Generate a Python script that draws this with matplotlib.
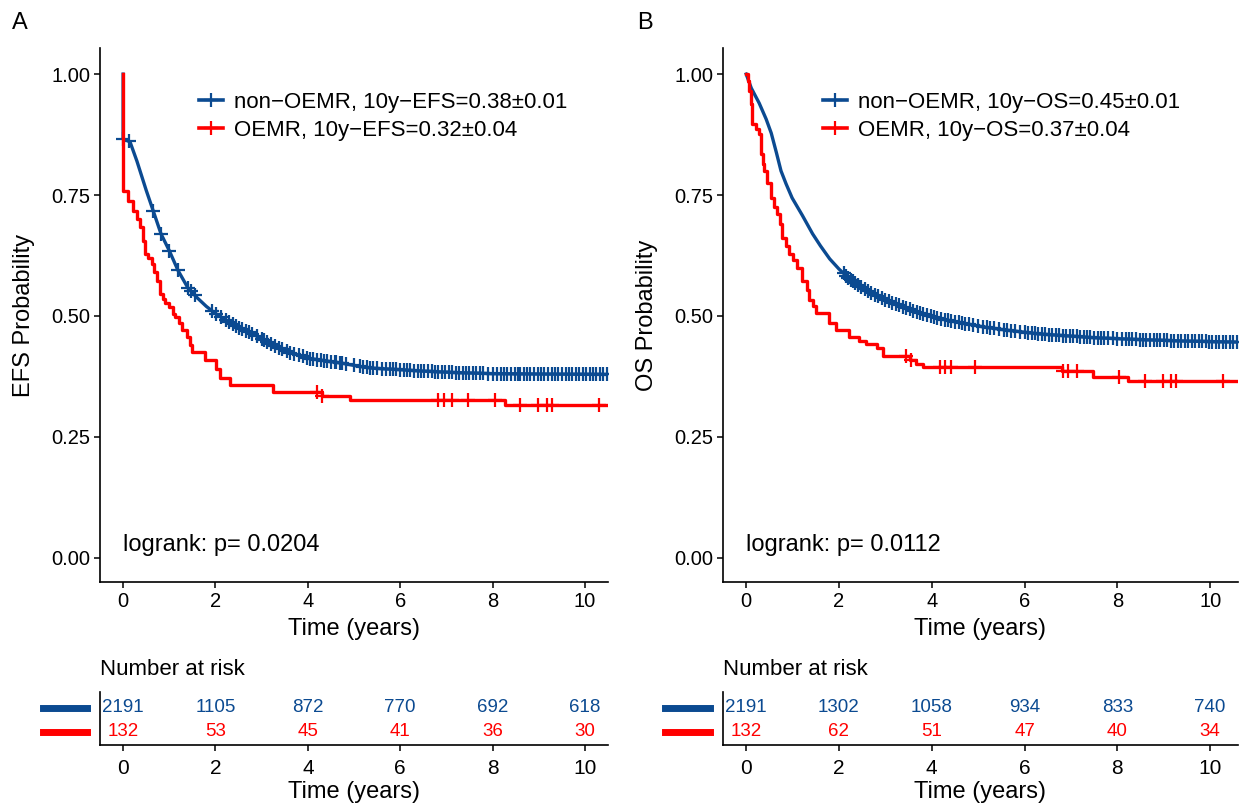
import numpy as np
import matplotlib
matplotlib.use("Agg")
import matplotlib.pyplot as plt
from matplotlib.lines import Line2D

plt.rcParams['font.family'] = ['Liberation Sans', 'DejaVu Sans']

BLUE = "#0b4a91"
RED = "#ff0000"

# ---- panel A: EFS ----
efs_blue_t = [0, 0, 0.15, 0.3, 0.5, 0.65, 0.82, 1.0, 1.19, 1.41, 1.6, 1.8, 2.0, 2.25, 2.5, 2.75,
              3.03, 3.3, 3.6, 4.05, 4.4, 4.76, 5.1, 5.4, 6.0, 6.5, 7.2, 7.9, 9.0, 10.5]
efs_blue_s = [1.0, 0.866, 0.86, 0.82, 0.76, 0.718, 0.67, 0.635, 0.594, 0.557, 0.538, 0.52, 0.505, 0.49, 0.476, 0.465,
              0.452, 0.437, 0.425, 0.412, 0.407, 0.402, 0.396, 0.392, 0.389, 0.386, 0.383, 0.381, 0.38, 0.379]
efs_red_t = [0, 0, 0.11, 0.22, 0.3, 0.37, 0.43, 0.48, 0.55, 0.63, 0.68, 0.73, 0.8, 0.86, 0.91, 1.0,
             1.08, 1.13, 1.2, 1.28, 1.38, 1.45, 1.49, 1.77, 2.02, 2.1, 2.32, 3.25, 4.31, 4.91, 8.27, 10.5]
efs_red_s = [1.0, 0.759, 0.738, 0.718, 0.70, 0.683, 0.656, 0.629, 0.62, 0.608, 0.59, 0.573, 0.546, 0.535, 0.526, 0.518,
             0.505, 0.497, 0.485, 0.47, 0.456, 0.44, 0.425, 0.408, 0.39, 0.371, 0.357, 0.342, 0.334, 0.326, 0.315, 0.315]
efs_blue_cens = [0.0, 0.13, 0.65, 0.82, 1.0, 1.19, 1.41, 1.46, 1.55, 1.93, 2.02, 2.12, 2.22, 2.3, 2.38, 2.45,
                 2.5, 2.58, 2.66, 2.72, 2.8, 2.9, 3.0, 3.05, 3.12, 3.2, 3.3, 3.38, 3.45, 3.55, 3.62, 3.7,
                 3.8, 3.9, 3.98, 4.05, 4.12, 4.2, 4.28, 4.35, 4.42, 4.5, 4.58, 4.62, 4.7, 4.75, 4.82, 5.0,
                 5.12, 5.2, 5.28, 5.35, 5.42, 5.5, 5.6, 5.7, 5.78, 5.85, 5.92, 6.0, 6.08, 6.15, 6.22, 6.3,
                 6.38, 6.45, 6.52, 6.6, 6.68, 6.75, 6.82, 6.9, 6.98, 7.05, 7.12, 7.2, 7.28, 7.35, 7.42, 7.5,
                 7.58, 7.65, 7.72, 7.8, 7.9, 8.0, 8.1, 8.18, 8.25, 8.32, 8.4, 8.48, 8.55, 8.6, 8.68, 8.75,
                 8.82, 8.9, 8.98, 9.05, 9.12, 9.2, 9.28, 9.35, 9.42, 9.5, 9.58, 9.65, 9.72, 9.8, 9.88, 9.95,
                 10.02, 10.1, 10.18, 10.25, 10.32, 10.4, 10.48]
efs_red_cens = [4.2, 4.31, 6.82, 6.95, 7.12, 7.47, 8.05, 8.59, 8.98, 9.18, 9.28, 10.30]

# ---- panel B: OS ----
os_blue_t = [0, 0.11, 0.28, 0.43, 0.54, 0.65, 0.75, 0.86, 0.99, 1.21, 1.43, 1.6, 1.8, 2.0, 2.2, 2.5,
             2.8, 3.09, 3.5, 3.89, 4.3, 4.67, 5.2, 5.68, 6.3, 6.76, 7.5, 8.55, 9.5, 10.6]
os_blue_s = [1.0, 0.971, 0.94, 0.907, 0.878, 0.838, 0.80, 0.773, 0.744, 0.708, 0.67, 0.645, 0.618, 0.597, 0.579, 0.558,
             0.543, 0.53, 0.514, 0.502, 0.492, 0.485, 0.476, 0.47, 0.463, 0.46, 0.455, 0.451, 0.448, 0.446]
os_red_t = [0, 0.03, 0.07, 0.1, 0.13, 0.21, 0.28, 0.32, 0.36, 0.39, 0.45, 0.54, 0.6, 0.67, 0.72, 0.78,
            0.85, 0.93, 1.0, 1.1, 1.2, 1.3, 1.36, 1.43, 1.5, 1.79, 1.94, 2.22, 2.44, 2.59, 2.81, 2.94,
            3.52, 3.65, 3.8, 6.8, 7.47, 8.23, 10.6]
os_red_s = [1.0, 0.985, 0.965, 0.938, 0.897, 0.887, 0.876, 0.835, 0.815, 0.80, 0.775, 0.744, 0.725, 0.711, 0.69, 0.662,
            0.645, 0.629, 0.615, 0.60, 0.573, 0.553, 0.532, 0.52, 0.507, 0.485, 0.47, 0.456, 0.449, 0.443, 0.433, 0.418,
            0.408, 0.40, 0.394, 0.386, 0.373, 0.365, 0.365]
os_blue_cens = [2.1, 2.15, 2.2, 2.26, 2.3, 2.35, 2.42, 2.48, 2.55, 2.62, 2.7, 2.78, 2.85, 2.92, 3.0, 3.08,
                3.15, 3.22, 3.3, 3.38, 3.45, 3.52, 3.6, 3.68, 3.75, 3.82, 3.9, 3.98, 4.05, 4.12, 4.2, 4.28,
                4.35, 4.42, 4.5, 4.58, 4.65, 4.72, 4.8, 4.88, 5.0, 5.1, 5.18, 5.25, 5.35, 5.45, 5.55, 5.62,
                5.7, 5.8, 5.9, 6.0, 6.08, 6.15, 6.22, 6.3, 6.38, 6.45, 6.52, 6.6, 6.68, 6.75, 6.82, 6.9,
                6.98, 7.05, 7.12, 7.2, 7.28, 7.35, 7.42, 7.5, 7.58, 7.65, 7.72, 7.8, 7.9, 8.0, 8.1, 8.18,
                8.25, 8.32, 8.4, 8.48, 8.55, 8.62, 8.7, 8.78, 8.85, 8.92, 9.0, 9.08, 9.15, 9.22, 9.3, 9.38,
                9.45, 9.52, 9.6, 9.68, 9.75, 9.82, 9.9, 9.98, 10.05, 10.12, 10.2, 10.28, 10.35, 10.42, 10.5, 10.57]
os_red_cens = [3.45, 3.56, 4.17, 4.28, 4.41, 4.93, 6.82, 6.93, 7.13, 8.03, 8.6, 8.98, 9.16, 9.27, 10.28]

# ---- number at risk ----
risk_times = [0, 2, 4, 6, 8, 10]
efs_risk_blue = [2191, 1105, 872, 770, 692, 618]
efs_risk_red = [132, 53, 45, 41, 36, 30]
os_risk_blue = [2191, 1302, 1058, 934, 833, 740]
os_risk_red = [132, 62, 51, 47, 40, 34]

W, H = 1243, 805
fig = plt.figure(figsize=(W / 100, H / 100), dpi=100)


def px_axes(l, t, r, b):
    return fig.add_axes([l / W, 1 - b / H, (r - l) / W, (b - t) / H])


def style(ax):
    for s in ["top", "right"]:
        ax.spines[s].set_visible(False)
    for s in ["left", "bottom"]:
        ax.spines[s].set_linewidth(1.2)
    ax.tick_params(direction="out", length=4, width=1.1, labelsize=14.5, colors="black", pad=3)


def step_at(t, s, c):
    idx = np.searchsorted(t, c, side="right") - 1
    return np.asarray(s)[idx]


def km_panel(l, r, xmax, bt, bs, rt, rs, bc, rc, ylab, leg, pval, rb, rr, letter, lx):
    ax = px_axes(l, 48, r, 582)
    style(ax)
    ax.plot(bt, bs, color=BLUE, lw=2.4, zorder=2, solid_joinstyle="round")
    ax.plot(bc, np.interp(bc, bt, bs), ls="none", marker="+", ms=10, mew=1.6, color=BLUE, zorder=2)
    ax.plot(rt, rs, color=RED, lw=2.4, drawstyle="steps-post", zorder=3)
    ax.plot(rc, step_at(rt, rs, rc), ls="none", marker="+", ms=10, mew=1.6, color=RED, zorder=3)
    ax.set_xlim(-0.5, xmax)
    ax.set_ylim(-0.05, 1.054)
    ax.set_xticks(risk_times)
    ax.set_yticks([0, 0.25, 0.5, 0.75, 1.0])
    ax.set_yticklabels(["0.00", "0.25", "0.50", "0.75", "1.00"])
    ax.set_xlabel("Time (years)", fontsize=17, labelpad=5)
    ax.set_ylabel(ylab, fontsize=17, labelpad=12)
    handles = [Line2D([], [], color=BLUE, lw=2.6, marker="+", ms=10, mew=1.6),
               Line2D([], [], color=RED, lw=2.6, marker="+", ms=10, mew=1.6)]
    ax.legend(handles, leg, loc="upper left", bbox_to_anchor=(0.155, 0.955), frameon=False,
              fontsize=16, handlelength=1.1, handletextpad=0.5, labelspacing=0.3)
    ax.text(0.045, 0.07, "logrank: p= " + pval, transform=ax.transAxes, fontsize=17, va="center")
    fig.text(lx / W, 1 - 23 / H, letter, fontsize=17, va="center", ha="left")

    # number-at-risk table
    tb = px_axes(l, 692, r, 745)
    for s in ["top", "right"]:
        tb.spines[s].set_visible(False)
    for s in ["left", "bottom"]:
        tb.spines[s].set_linewidth(1.2)
    tb.tick_params(axis="x", direction="out", length=4, width=1.1, labelsize=15, pad=6)
    tb.set_yticks([])
    tb.set_xlim(-0.5, xmax)
    tb.set_ylim(-0.55, 1.65)
    tb.set_xticks(risk_times)
    tb.set_xlabel("Time (years)", fontsize=17, labelpad=2)
    for x, b, rv in zip(risk_times, rb, rr):
        tb.text(x, 1, str(b), color=BLUE, ha="center", va="center", fontsize=13.5)
        tb.text(x, 0, str(rv), color=RED, ha="center", va="center", fontsize=13.5)
    tb.plot([-0.112, -0.025], [1, 1], color=BLUE, lw=5, transform=tb.get_yaxis_transform(), clip_on=False)
    tb.plot([-0.112, -0.025], [0, 0], color=RED, lw=5, transform=tb.get_yaxis_transform(), clip_on=False)
    fig.text(l / W, 1 - 669 / H, "Number at risk", fontsize=16, va="center", ha="left")


km_panel(100, 608, 10.5, efs_blue_t, efs_blue_s, efs_red_t, efs_red_s, efs_blue_cens, efs_red_cens,
         "EFS Probability", ["non\u2212OEMR, 10y\u2212EFS=0.38\u00b10.01", "OEMR, 10y\u2212EFS=0.32\u00b10.04"],
         "0.0204", efs_risk_blue, efs_risk_red, "A", 12)
km_panel(723, 1238, 10.6, os_blue_t, os_blue_s, os_red_t, os_red_s, os_blue_cens, os_red_cens,
         "OS Probability", ["non\u2212OEMR, 10y\u2212OS=0.45\u00b10.01", "OEMR, 10y\u2212OS=0.37\u00b10.04"],
         "0.0112", os_risk_blue, os_risk_red, "B", 637)

fig.savefig("out.png", dpi=100)
